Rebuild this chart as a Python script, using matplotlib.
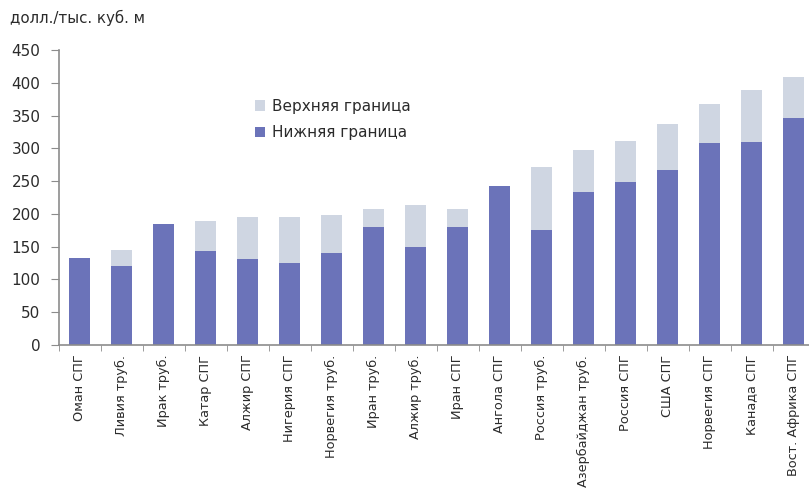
import numpy as np
import matplotlib.pyplot as plt
from matplotlib.ticker import FixedLocator

# supply cost range by source, USD per thousand cubic metres
sources = ['Оман СПГ', 'Ливия труб.', 'Ирак труб.', 'Катар СПГ', 'Алжир СПГ',
           'Нигерия СПГ', 'Норвегия труб.', 'Иран труб.', 'Алжир труб.',
           'Иран СПГ', 'Ангола СПГ', 'Россия труб.', 'Азербайджан труб.',
           'Россия СПГ', 'США СПГ', 'Норвегия СПГ', 'Канада СПГ',
           'Вост. Африка СПГ']
lower = [133, 120, 185, 144, 131, 125, 141, 180, 149,
         180, 243, 175, 233, 248, 267, 308, 310, 347]
upper = [133, 145, 185, 189, 195, 196, 199, 208, 213,
         208, 243, 272, 298, 311, 337, 367, 389, 409]
yticks = [0, 50, 100, 150, 200, 250, 300, 350, 400, 450]

dark = '#6b73b9'
light = '#cfd6e2'
axis_col = '#8c8c8c'
text_col = '#2b2b2b'

plt.rcParams['font.family'] = ['DejaVu Sans']

fig = plt.figure(figsize=(8.09, 4.92), dpi=100)
ax = fig.add_axes([58.5 / 809, 1 - 345 / 492, 756 / 809, 295 / 492])

x = np.arange(len(sources))
lo = np.array(lower)
hi = np.array(upper)
ax.bar(x, lo, width=0.5, color=dark, label='Нижняя граница', zorder=2)
ax.bar(x, hi - lo, bottom=lo, width=0.5, color=light,
       label='Верхняя граница', zorder=2)

ax.set_xlim(-0.5, len(sources) - 0.5)
ax.set_ylim(0, 450)
ax.set_yticks(yticks)
ax.set_xticks(x)
ax.set_xticklabels(sources, rotation=90, fontsize=9.3, color=text_col)
ax.xaxis.set_minor_locator(FixedLocator(np.arange(len(sources) + 1) - 0.5))
ax.tick_params(axis='x', which='major', length=0, pad=7)
ax.tick_params(axis='x', which='minor', length=4, color=axis_col)
ax.tick_params(axis='y', length=6, color=axis_col, labelsize=11,
               labelcolor=text_col, pad=7)

for side in ['top', 'right']:
    ax.spines[side].set_visible(False)
for side in ['left', 'bottom']:
    ax.spines[side].set_color(axis_col)
    ax.spines[side].set_linewidth(1.2)

handles, labels = ax.get_legend_handles_labels()
leg = ax.legend(handles[::-1], labels[::-1], loc='upper left',
                bbox_to_anchor=(241 / 809, 1 - 85 / 492),
                bbox_transform=fig.transFigure, frameon=False,
                fontsize=11, handlelength=0.7, handleheight=0.7,
                handletextpad=0.45, labelspacing=0.75)
for t in leg.get_texts():
    t.set_color(text_col)

fig.text(10 / 809, 1 - 18 / 492, 'долл./тыс. куб. м', fontsize=10.8,
         color=text_col, va='center', ha='left')

fig.savefig('out.png', dpi=100)
